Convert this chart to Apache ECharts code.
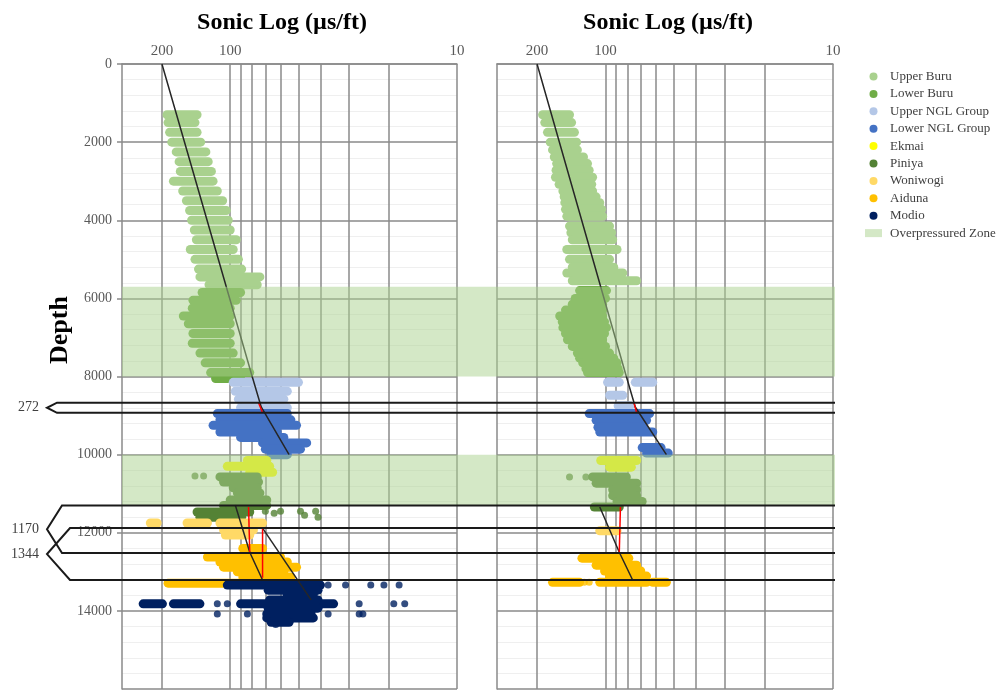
<!DOCTYPE html>
<html>
<head>
<meta charset="utf-8">
<script src="https://cdn.jsdelivr.net/npm/echarts@6/dist/echarts.min.js"></script>
<style>
  html, body { margin: 0; background: #fff; }
  #chart { width: 1006px; height: 690px; }
</style>
</head>
<body>
<div id="chart"></div>
<script>
// axis ticks (sonic log, us/ft) and depth
var xTickLabels = [200, 100, 10];
var xGridValues = [200, 100, 90, 80, 70, 60, 50, 40, 30, 20, 10];
var legendNames = ['Upper Buru', 'Lower Buru', 'Upper NGL Group', 'Lower NGL Group', 'Ekmai',
  'Piniya', 'Woniwogi', 'Aiduna', 'Modio', 'Overpressured Zone'];

// overpressured zones (depth top / bottom)
var zoneTop = [5700, 10000];
var zoneBottom = [8000, 11300];

// interval brackets on the left
var bracketTop = [8670, 11300, 11880];
var bracketBottom = [8930, 12520, 13210];
var bracketLabels = ['272', '1170', '1344'];

// point clouds read row by row: [depth, lowest DT, highest DT]
var leftUpperBuru = [[1300,140,190],[1500,143,188],[1750,140,185],[2000,135,181],[2250,128,173],
  [2500,125,168],[2750,121,166],[3000,119,178],[3250,114,162],[3500,108,156],[3750,104,151],
  [4000,102,148],[4250,100,144],[4500,94,141],[4750,97,150],[5000,92,143],[5250,89,138],
  [5450,74,136],[5650,76,124]];
var leftLowerBuru = [[5850,90,133],[6050,94,146],[6250,100,147],[6450,100,161],[6650,100,153],
  [6900,100,146],[7150,100,147],[7400,97,136],[7650,90,129],[7900,82,122],[8050,90,116]];
var leftUpperNGL = [[8150,50,97],[8380,56,95],[8580,58,92],[8800,56,90]];
var leftLowerNGL = [[8950,56,114],[9110,54,111],[9250,51,119],[9420,62,111],[9560,58,90],
  [9700,46,72],[9860,49,70],[10000,56,66]];
var leftEkmai = [[10150,69,84],[10300,67,103],[10450,65,82]];
var leftPiniya = [[10570,76,111],[10700,75,107],[10850,76,97],[10980,74,93],[11160,69,100],
  [11300,69,107],[11470,82,140],[11600,89,136]];
var leftPiniyaDots = [[143,10550],[131,10550],[70,11450],[64,11500],[60,11450],[49,11450],
  [47,11550],[42,11450],[41,11600]];
var leftWoniwogi = [[11750,210,225],[11750,126,155],[11750,72,111],[11930,79,107],[12060,82,105]];
var leftAiduna = [[12400,72,88],[12620,60,126],[12750,56,111],[12880,51,107],[13000,58,93],
  [13130,54,88],[13290,69,188]];
var leftModio = [[13340,40,103],[13470,41,68],[13590,43,56],[13720,41,67],[13820,35,90],
  [13820,136,178],[13820,199,242],[13930,41,68],[14080,44,69],[14180,43,69],[14290,55,66]];
var leftModioDots = [[37,13340],[31,13340],[24,13340],[21,13340],[18,13340],[114,13820],
  [103,13820],[27,13820],[19,13820],[17,13820],[114,14080],[84,14080],[37,14080],[27,14080],
  [26,14080],[63,14350]];

var rightUpperBuru = [[1300,144,189],[1500,141,185],[1750,137,180],[2000,134,175],[2200,133,171],
  [2380,125,168],[2550,120,164],[2720,118,165],[2900,114,166],[3080,115,160],[3250,114,154],
  [3400,110,152],[3550,106,151],[3720,104,150],[3900,103,148],[4150,96,144],[4320,94,142],
  [4500,93,140],[4750,89,148],[5000,96,144],[5200,92,140],[5350,84,148],[5550,73,140]];
var rightLowerBuru = [[5800,99,130],[6000,100,136],[6150,103,140],[6300,103,150],[6450,103,159],
  [6600,101,155],[6750,99,154],[6900,101,150],[7060,103,147],[7230,100,140],[7400,96,133],
  [7530,92,130],[7650,89,126],[7800,88,122],[7900,87,120]];
var rightUpperNGL = [[8150,87,98],[8150,62,74],[8480,84,96],[8750,78,88]];
var rightLowerNGL = [[8950,64,118],[9120,66,110],[9300,68,108],[9420,62,106],[9820,57,69],
  [9960,53,66]];
var rightEkmai = [[10150,73,105],[10320,77,96]];
var rightPiniya = [[10570,81,114],[10730,73,110],[10900,73,93],[11050,73,93],[11200,69,89],
  [11340,87,112]];
var rightPiniyaDots = [[144,10570],[122,10570]];
var rightWoniwogi = [[11950,89,106]];
var rightAiduna = [[12650,79,127],[12830,73,110],[12980,70,101],[13110,66,96],[13270,130,171],
  [13270,66,106],[13270,54,62]];
var rightAidunaDots = [[124,13270],[118,13270]];

// compaction trend lines [DT, depth]
var leftTrend = [[200,0],[80,8000],[73,8780],[55,10000]];
var leftTrendRed = [[75,8670],[72,8930]];
var leftLowerTrendA = [[95,11290],[82,12500],[72,13210]];
var leftLowerRedA = [[83,11340],[82,12500]];
var leftLowerRedB = [[72,11900],[72,13150]];
var leftLowerTrendB = [[72,11880],[44,13720]];
var rightTrend = [[200,0],[81,8000],[74,8780],[54,10000]];
var rightTrendRed = [[75,8670],[73,8930]];
var rightLowerTrendA = [[106,11340],[87,12500],[76,13210]];
var rightLowerRedA = [[86,11340],[87,12500]];

var SERIF = '"Liberation Serif", "Times New Roman", serif';
var colors = {
  'Upper Buru': '#a9d18e', 'Lower Buru': '#70ad47', 'Upper NGL Group': '#b4c7e7',
  'Lower NGL Group': '#4472c4', 'Ekmai': '#ffff00', 'Piniya': '#548235',
  'Woniwogi': '#ffd966', 'Aiduna': '#ffc000', 'Modio': '#002060',
  'Overpressured Zone': 'rgba(169,209,142,0.5)'
};
var gridColor = '#8a8a8a';

var chart = echarts.init(document.getElementById('chart'));

function renderRow(params, api) {
  var d = api.value(0);
  var a = api.coord([api.value(2), d]);
  var b = api.coord([api.value(1), d]);
  var h = 9;
  return {
    type: 'rect',
    shape: { x: a[0] - h / 2, y: a[1] - h / 2, width: b[0] - a[0] + h, height: h, r: h / 2 },
    style: { fill: api.visual('color') }
  };
}

function renderZone(params, api) {
  var cs = params.coordSys;
  var t = api.coord([0, api.value(0)])[1];
  var b = api.coord([0, api.value(1)])[1];
  return {
    type: 'rect',
    shape: { x: cs.x, y: t, width: cs.width, height: b - t },
    style: { fill: api.visual('color') }
  };
}

function renderBracket(params, api) {
  var cs = params.coordSys;
  var t = api.coord([0, api.value(0)])[1];
  var b = api.coord([0, api.value(1)])[1];
  var mid = (t + b) / 2;
  var right = cs.x + cs.width;
  var tip = cs.x - 75;
  var corner = cs.x - [65, 60, 52][params.dataIndex];
  return {
    type: 'group',
    children: [{
      type: 'polyline',
      shape: { points: [[right, t], [corner, t], [tip, mid], [corner, b], [right, b]] },
      style: { stroke: '#1a1a1a', lineWidth: 2, fill: null }
    }, {
      type: 'text',
      style: {
        text: bracketLabels[params.dataIndex], x: tip - 8, y: mid,
        align: 'right', verticalAlign: 'middle',
        font: '14px ' + SERIF, fill: '#404040'
      }
    }]
  };
}

function rowSeries(name, data, gi) {
  return {
    name: name, type: 'custom', xAxisIndex: gi, yAxisIndex: gi, data: data,
    encode: { x: [1, 2], y: 0 }, itemStyle: { color: colors[name] },
    renderItem: renderRow, z: 2, silent: true
  };
}

function dotSeries(name, data, gi) {
  return {
    name: name, type: 'scatter', xAxisIndex: gi, yAxisIndex: gi, data: data,
    symbolSize: 7, itemStyle: { color: colors[name] }, z: 2, silent: true
  };
}

function lineSeries(data, gi, color) {
  return {
    type: 'line', xAxisIndex: gi, yAxisIndex: gi, data: data, symbol: 'none',
    lineStyle: { color: color, width: 1.5 }, z: 3, silent: true
  };
}

function xAxisFor(gi) {
  return {
    type: 'log', gridIndex: gi, min: 10, max: 300, inverse: true, position: 'top',
    axisLine: { show: true, lineStyle: { color: gridColor, width: 1.5 } },
    axisTick: { show: false, customValues: xGridValues },
    axisLabel: {
      customValues: xTickLabels, margin: 5, color: '#595959', fontFamily: SERIF, fontSize: 15,
      formatter: function (v) { return String(Math.round(v)); }
    },
    splitLine: { show: true, lineStyle: { color: gridColor, width: 1.5 } }
  };
}

function yAxisFor(gi, labels) {
  return {
    type: 'value', gridIndex: gi, min: 0, max: 16000, interval: 2000, inverse: true,
    axisLine: { show: true, lineStyle: { color: gridColor, width: 1.5 } },
    axisTick: { show: labels, length: 5, lineStyle: { color: gridColor, width: 1.5 } },
    axisLabel: {
      show: labels, showMaxLabel: false, margin: 10, color: '#595959', fontFamily: SERIF, fontSize: 14,
      formatter: function (v) { return String(v); }
    },
    splitLine: { show: true, lineStyle: { color: gridColor, width: 1.5 } },
    minorTick: { show: false, splitNumber: 5 },
    minorSplitLine: { show: true, lineStyle: { color: '#efefef', width: 1 } }
  };
}

var series = [
  rowSeries('Upper Buru', leftUpperBuru, 0),
  rowSeries('Lower Buru', leftLowerBuru, 0),
  rowSeries('Upper NGL Group', leftUpperNGL, 0),
  rowSeries('Lower NGL Group', leftLowerNGL, 0),
  rowSeries('Ekmai', leftEkmai, 0),
  rowSeries('Piniya', leftPiniya, 0),
  dotSeries('Piniya', leftPiniyaDots, 0),
  rowSeries('Woniwogi', leftWoniwogi, 0),
  rowSeries('Aiduna', leftAiduna, 0),
  rowSeries('Modio', leftModio, 0),
  dotSeries('Modio', leftModioDots, 0),

  rowSeries('Upper Buru', rightUpperBuru, 1),
  rowSeries('Lower Buru', rightLowerBuru, 1),
  rowSeries('Upper NGL Group', rightUpperNGL, 1),
  rowSeries('Lower NGL Group', rightLowerNGL, 1),
  rowSeries('Ekmai', rightEkmai, 1),
  rowSeries('Piniya', rightPiniya, 1),
  dotSeries('Piniya', rightPiniyaDots, 1),
  rowSeries('Woniwogi', rightWoniwogi, 1),
  rowSeries('Aiduna', rightAiduna, 1),
  dotSeries('Aiduna', rightAidunaDots, 1),

  lineSeries(leftTrend, 0, '#262626'),
  lineSeries(leftTrendRed, 0, '#ff0000'),
  lineSeries(leftLowerTrendA, 0, '#262626'),
  lineSeries(leftLowerTrendB, 0, '#262626'),
  lineSeries(leftLowerRedA, 0, '#ff0000'),
  lineSeries(leftLowerRedB, 0, '#ff0000'),
  lineSeries(rightTrend, 1, '#262626'),
  lineSeries(rightTrendRed, 1, '#ff0000'),
  lineSeries(rightLowerTrendA, 1, '#262626'),
  lineSeries(rightLowerRedA, 1, '#ff0000'),

  {
    name: 'Overpressured Zone', type: 'custom', xAxisIndex: 2, yAxisIndex: 2,
    data: zoneTop.map(function (t, i) { return [t, zoneBottom[i]]; }),
    encode: { y: [0, 1] }, itemStyle: { color: colors['Overpressured Zone'] },
    renderItem: renderZone, z: 4, silent: true
  },
  {
    type: 'custom', xAxisIndex: 2, yAxisIndex: 2,
    data: bracketTop.map(function (t, i) { return [t, bracketBottom[i]]; }),
    encode: { y: [0, 1] }, renderItem: renderBracket, z: 6, silent: true
  }
];

var option = {
  animation: false,
  backgroundColor: '#fff',
  grid: [
    { left: 122, top: 64, width: 335, height: 625, outerBoundsMode: 'none' },
    { left: 497, top: 64, width: 336, height: 625, outerBoundsMode: 'none' },
    { left: 122, top: 64, width: 713, height: 625, outerBoundsMode: 'none' }
  ],
  xAxis: [xAxisFor(0), xAxisFor(1), { type: 'value', gridIndex: 2, min: 0, max: 1, show: false }],
  yAxis: [yAxisFor(0, true), yAxisFor(1, false),
    { type: 'value', gridIndex: 2, min: 0, max: 16000, inverse: true, show: false }],
  legend: {
    orient: 'vertical', left: 860, top: 65, itemWidth: 17, itemHeight: 8, itemGap: 4.4,
    selectedMode: false,
    textStyle: { fontFamily: SERIF, fontSize: 13, lineHeight: 13, color: '#404040', padding: [0, 0, 0, 3] },
    data: legendNames.map(function (n) {
      return { name: n, icon: n === 'Overpressured Zone' ? 'rect' : 'circle' };
    })
  },
  graphic: [
    { type: 'text', x: 282, y: 23, style: { text: 'Sonic Log (µs/ft)', align: 'center', verticalAlign: 'middle', font: 'bold 24px ' + SERIF, fill: '#000' } },
    { type: 'text', x: 668, y: 23, style: { text: 'Sonic Log (µs/ft)', align: 'center', verticalAlign: 'middle', font: 'bold 24px ' + SERIF, fill: '#000' } },
    { type: 'text', x: 60, y: 330, rotation: Math.PI / 2, style: { text: 'Depth', align: 'center', verticalAlign: 'middle', font: 'bold 26px ' + SERIF, fill: '#000' } }
  ],
  series: series
};

chart.setOption(option);
window.addEventListener('resize', function () { chart.resize(); });
</script>
</body>
</html>
